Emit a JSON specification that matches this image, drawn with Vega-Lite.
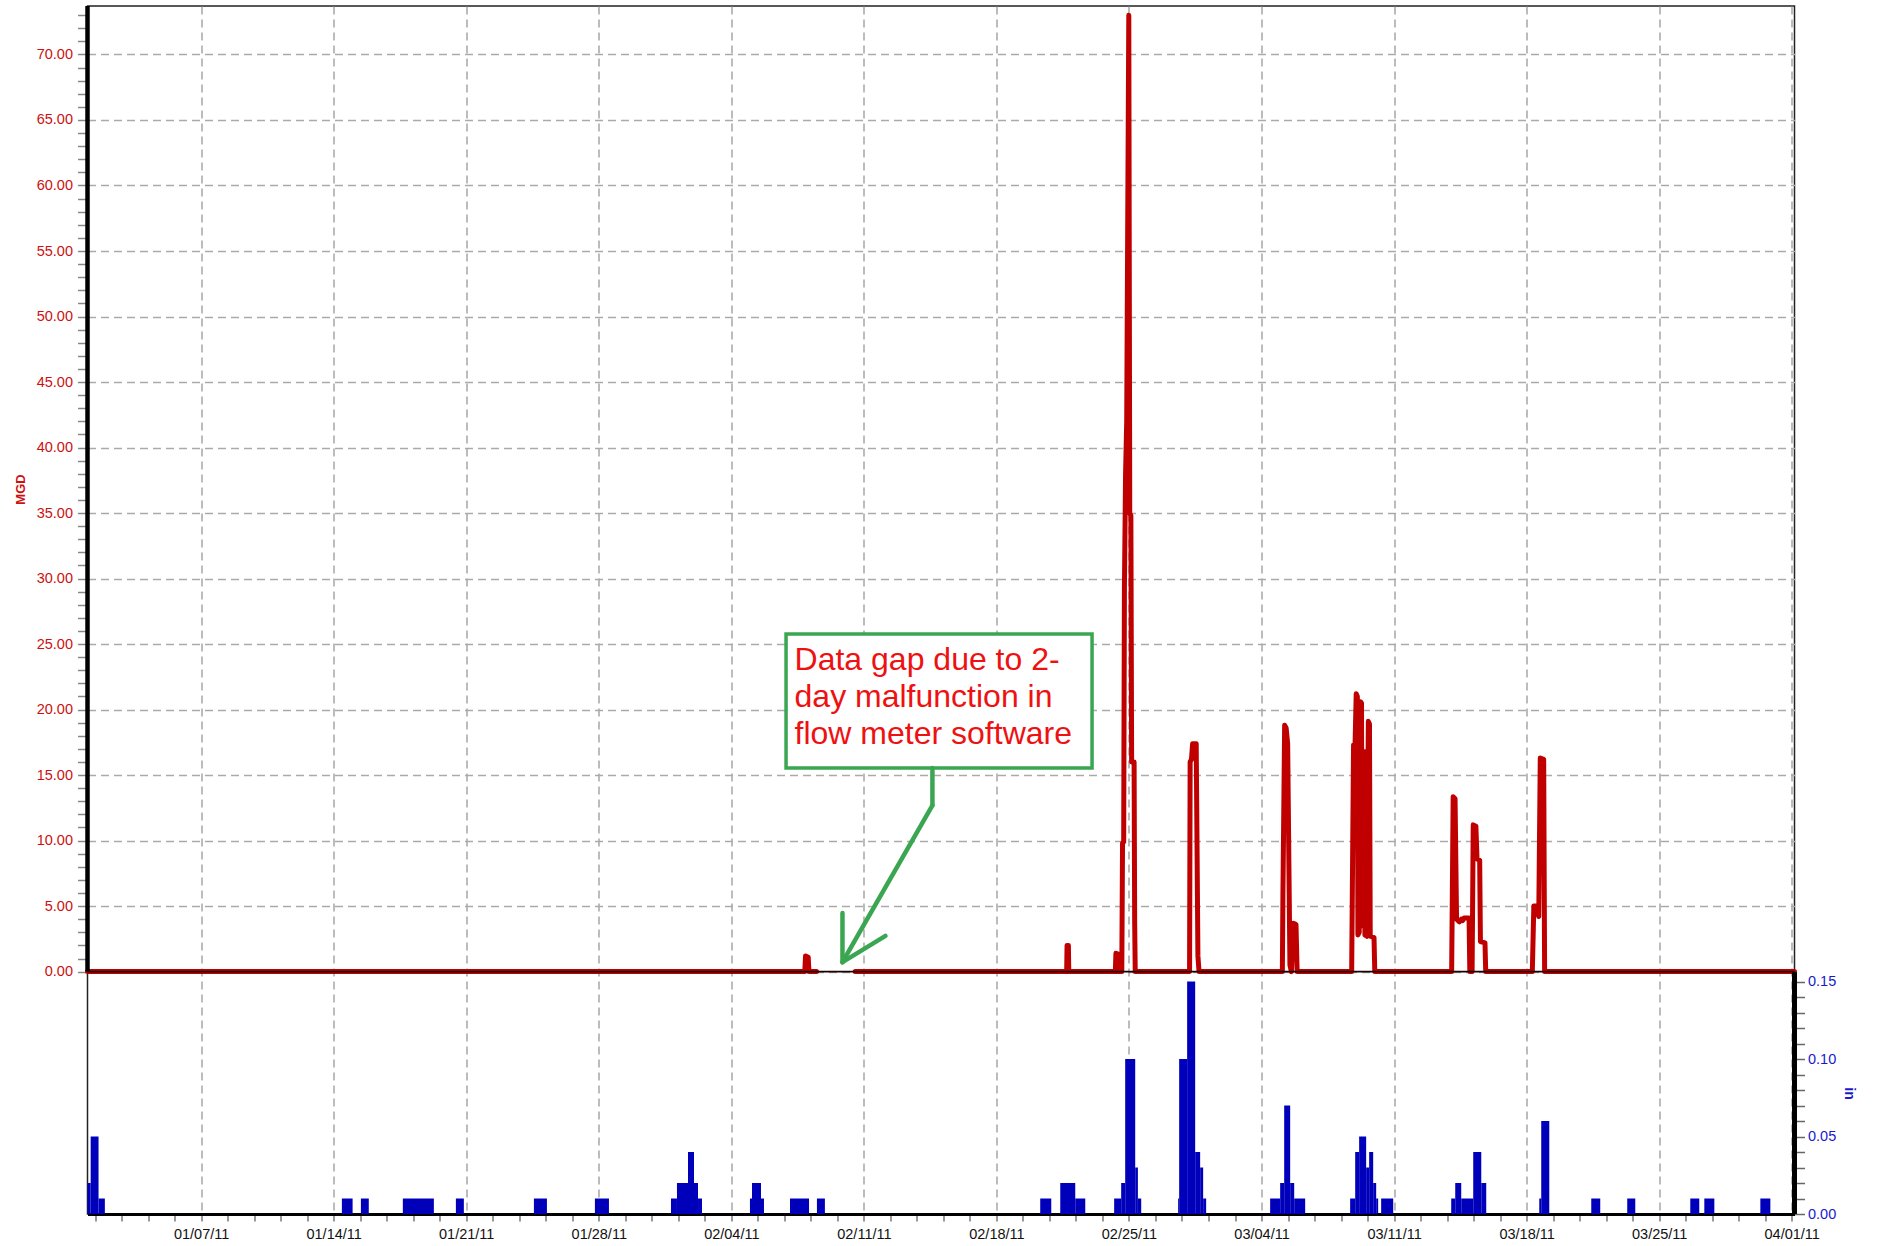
{
  "$schema": "https://vega.github.io/schema/vega-lite/v6.json",
  "autosize": {"type": "none"},
  "padding": {"left": 87.5, "top": 6, "right": 84.5, "bottom": 32},
  "width": 1707,
  "height": 1208,
  "background": "white",
  "config": {
    "view": {"stroke": "#222222", "strokeWidth": 1.5},
    "font": "Liberation Sans",
    "axis": {"labelFont": "Liberation Sans", "titleFont": "Liberation Sans"}
  },
  "datasets": {
    "flow": [
      {"t": "2011-01-01T00:00:00Z", "MGD": 0, "seg": 1},
      {"t": "2011-02-07T21:07:00Z", "MGD": 0, "seg": 1},
      {"t": "2011-02-07T22:05:00Z", "MGD": 1.2, "seg": 1},
      {"t": "2011-02-08T01:26:00Z", "MGD": 1.1, "seg": 1},
      {"t": "2011-02-08T02:24:00Z", "MGD": 0, "seg": 1},
      {"t": "2011-02-08T12:00:00Z", "MGD": 0, "seg": 1},
      {"t": "2011-02-10T13:00:00Z", "MGD": 0, "seg": 2},
      {"t": "2011-02-21T17:02:00Z", "MGD": 0, "seg": 2},
      {"t": "2011-02-21T17:31:00Z", "MGD": 2.0, "seg": 2},
      {"t": "2011-02-21T19:12:00Z", "MGD": 2.0, "seg": 2},
      {"t": "2011-02-21T19:41:00Z", "MGD": 0, "seg": 2},
      {"t": "2011-02-24T06:43:00Z", "MGD": 0, "seg": 2},
      {"t": "2011-02-24T07:26:00Z", "MGD": 1.4, "seg": 2},
      {"t": "2011-02-24T09:36:00Z", "MGD": 1.35, "seg": 2},
      {"t": "2011-02-24T10:19:00Z", "MGD": 0, "seg": 2},
      {"t": "2011-02-24T14:53:00Z", "MGD": 0, "seg": 2},
      {"t": "2011-02-24T15:50:00Z", "MGD": 9.8, "seg": 2},
      {"t": "2011-02-24T17:17:00Z", "MGD": 9.9, "seg": 2},
      {"t": "2011-02-24T18:14:00Z", "MGD": 29.3, "seg": 2},
      {"t": "2011-02-24T19:41:00Z", "MGD": 38.0, "seg": 2},
      {"t": "2011-02-24T21:07:00Z", "MGD": 42.0, "seg": 2},
      {"t": "2011-02-24T23:46:00Z", "MGD": 73.0, "seg": 2},
      {"t": "2011-02-25T00:58:00Z", "MGD": 35.0, "seg": 2},
      {"t": "2011-02-25T02:24:00Z", "MGD": 34.8, "seg": 2},
      {"t": "2011-02-25T03:22:00Z", "MGD": 16.0, "seg": 2},
      {"t": "2011-02-25T06:29:00Z", "MGD": 16.0, "seg": 2},
      {"t": "2011-02-25T07:12:00Z", "MGD": 3.9, "seg": 2},
      {"t": "2011-02-25T07:55:00Z", "MGD": 0, "seg": 2},
      {"t": "2011-02-28T04:48:00Z", "MGD": 0, "seg": 2},
      {"t": "2011-02-28T05:31:00Z", "MGD": 16.0, "seg": 2},
      {"t": "2011-02-28T07:12:00Z", "MGD": 16.2, "seg": 2},
      {"t": "2011-02-28T08:38:00Z", "MGD": 17.4, "seg": 2},
      {"t": "2011-02-28T13:12:00Z", "MGD": 17.4, "seg": 2},
      {"t": "2011-02-28T15:22:00Z", "MGD": 1.2, "seg": 2},
      {"t": "2011-02-28T16:48:00Z", "MGD": 0, "seg": 2},
      {"t": "2011-03-05T02:24:00Z", "MGD": 0, "seg": 2},
      {"t": "2011-03-05T03:07:00Z", "MGD": 5.85, "seg": 2},
      {"t": "2011-03-05T05:17:00Z", "MGD": 18.8, "seg": 2},
      {"t": "2011-03-05T07:12:00Z", "MGD": 18.6, "seg": 2},
      {"t": "2011-03-05T09:07:00Z", "MGD": 17.4, "seg": 2},
      {"t": "2011-03-05T12:00:00Z", "MGD": 0.5, "seg": 2},
      {"t": "2011-03-05T13:55:00Z", "MGD": 0, "seg": 2},
      {"t": "2011-03-05T16:19:00Z", "MGD": 3.7, "seg": 2},
      {"t": "2011-03-05T19:41:00Z", "MGD": 3.6, "seg": 2},
      {"t": "2011-03-05T21:07:00Z", "MGD": 0, "seg": 2},
      {"t": "2011-03-08T18:14:00Z", "MGD": 0, "seg": 2},
      {"t": "2011-03-08T20:38:00Z", "MGD": 17.3, "seg": 2},
      {"t": "2011-03-08T22:34:00Z", "MGD": 17.4, "seg": 2},
      {"t": "2011-03-09T00:00:00Z", "MGD": 21.2, "seg": 2},
      {"t": "2011-03-09T01:26:00Z", "MGD": 21.0, "seg": 2},
      {"t": "2011-03-09T02:10:00Z", "MGD": 2.8, "seg": 2},
      {"t": "2011-03-09T03:50:00Z", "MGD": 3.0, "seg": 2},
      {"t": "2011-03-09T05:17:00Z", "MGD": 20.6, "seg": 2},
      {"t": "2011-03-09T06:43:00Z", "MGD": 20.5, "seg": 2},
      {"t": "2011-03-09T07:26:00Z", "MGD": 3.5, "seg": 2},
      {"t": "2011-03-09T08:38:00Z", "MGD": 16.6, "seg": 2},
      {"t": "2011-03-09T10:05:00Z", "MGD": 16.8, "seg": 2},
      {"t": "2011-03-09T11:02:00Z", "MGD": 2.8, "seg": 2},
      {"t": "2011-03-09T13:26:00Z", "MGD": 2.7, "seg": 2},
      {"t": "2011-03-09T15:22:00Z", "MGD": 19.1, "seg": 2},
      {"t": "2011-03-09T16:48:00Z", "MGD": 18.9, "seg": 2},
      {"t": "2011-03-09T17:46:00Z", "MGD": 2.7, "seg": 2},
      {"t": "2011-03-09T22:34:00Z", "MGD": 2.6, "seg": 2},
      {"t": "2011-03-09T23:31:00Z", "MGD": 0, "seg": 2},
      {"t": "2011-03-14T00:58:00Z", "MGD": 0, "seg": 2},
      {"t": "2011-03-14T02:53:00Z", "MGD": 13.35, "seg": 2},
      {"t": "2011-03-14T05:17:00Z", "MGD": 13.2, "seg": 2},
      {"t": "2011-03-14T07:12:00Z", "MGD": 4.0, "seg": 2},
      {"t": "2011-03-14T10:48:00Z", "MGD": 3.8, "seg": 2},
      {"t": "2011-03-14T13:12:00Z", "MGD": 4.0, "seg": 2},
      {"t": "2011-03-14T14:53:00Z", "MGD": 3.9, "seg": 2},
      {"t": "2011-03-14T16:48:00Z", "MGD": 4.1, "seg": 2},
      {"t": "2011-03-14T23:02:00Z", "MGD": 4.1, "seg": 2},
      {"t": "2011-03-15T00:00:00Z", "MGD": 0, "seg": 2},
      {"t": "2011-03-15T02:53:00Z", "MGD": 0, "seg": 2},
      {"t": "2011-03-15T04:19:00Z", "MGD": 11.2, "seg": 2},
      {"t": "2011-03-15T07:41:00Z", "MGD": 11.1, "seg": 2},
      {"t": "2011-03-15T09:07:00Z", "MGD": 8.6, "seg": 2},
      {"t": "2011-03-15T12:29:00Z", "MGD": 8.5, "seg": 2},
      {"t": "2011-03-15T13:26:00Z", "MGD": 2.3, "seg": 2},
      {"t": "2011-03-15T19:12:00Z", "MGD": 2.2, "seg": 2},
      {"t": "2011-03-15T20:10:00Z", "MGD": 0, "seg": 2},
      {"t": "2011-03-18T07:12:00Z", "MGD": 0, "seg": 2},
      {"t": "2011-03-18T09:07:00Z", "MGD": 5.0, "seg": 2},
      {"t": "2011-03-18T12:29:00Z", "MGD": 5.0, "seg": 2},
      {"t": "2011-03-18T15:22:00Z", "MGD": 4.2, "seg": 2},
      {"t": "2011-03-18T17:17:00Z", "MGD": 16.3, "seg": 2},
      {"t": "2011-03-18T21:36:00Z", "MGD": 16.2, "seg": 2},
      {"t": "2011-03-18T22:48:00Z", "MGD": 0, "seg": 2},
      {"t": "2011-04-01T03:30:00Z", "MGD": 0, "seg": 2}
    ],
    "rain": [
      {"start": "2011-01-01T00:00:00Z", "end": "2011-01-01T04:00:00Z", "in": 0.02},
      {"start": "2011-01-01T04:00:00Z", "end": "2011-01-01T14:00:00Z", "in": 0.05},
      {"start": "2011-01-01T14:00:00Z", "end": "2011-01-01T22:00:00Z", "in": 0.01},
      {"start": "2011-01-14T10:24:00Z", "end": "2011-01-15T00:00:00Z", "in": 0.01},
      {"start": "2011-01-15T10:30:00Z", "end": "2011-01-15T20:30:00Z", "in": 0.01},
      {"start": "2011-01-17T15:40:00Z", "end": "2011-01-19T07:00:00Z", "in": 0.01},
      {"start": "2011-01-20T10:54:00Z", "end": "2011-01-20T21:00:00Z", "in": 0.01},
      {"start": "2011-01-24T13:48:00Z", "end": "2011-01-25T06:18:00Z", "in": 0.01},
      {"start": "2011-01-27T19:06:00Z", "end": "2011-01-28T12:54:00Z", "in": 0.01},
      {"start": "2011-01-31T19:30:00Z", "end": "2011-02-01T03:06:00Z", "in": 0.01},
      {"start": "2011-02-01T03:06:00Z", "end": "2011-02-01T17:06:00Z", "in": 0.02},
      {"start": "2011-02-01T17:06:00Z", "end": "2011-02-02T00:42:00Z", "in": 0.04},
      {"start": "2011-02-02T00:42:00Z", "end": "2011-02-02T05:48:00Z", "in": 0.02},
      {"start": "2011-02-02T05:48:00Z", "end": "2011-02-02T10:48:00Z", "in": 0.01},
      {"start": "2011-02-04T23:36:00Z", "end": "2011-02-05T02:12:00Z", "in": 0.01},
      {"start": "2011-02-05T02:12:00Z", "end": "2011-02-05T13:36:00Z", "in": 0.02},
      {"start": "2011-02-05T13:36:00Z", "end": "2011-02-05T17:24:00Z", "in": 0.01},
      {"start": "2011-02-07T02:24:00Z", "end": "2011-02-08T02:30:00Z", "in": 0.01},
      {"start": "2011-02-08T12:30:00Z", "end": "2011-02-08T22:36:00Z", "in": 0.01},
      {"start": "2011-02-20T07:30:00Z", "end": "2011-02-20T21:30:00Z", "in": 0.01},
      {"start": "2011-02-21T08:54:00Z", "end": "2011-02-22T03:54:00Z", "in": 0.02},
      {"start": "2011-02-22T03:54:00Z", "end": "2011-02-22T16:36:00Z", "in": 0.01},
      {"start": "2011-02-24T05:12:00Z", "end": "2011-02-24T14:06:00Z", "in": 0.01},
      {"start": "2011-02-24T14:06:00Z", "end": "2011-02-24T19:12:00Z", "in": 0.02},
      {"start": "2011-02-24T19:12:00Z", "end": "2011-02-25T07:54:00Z", "in": 0.10},
      {"start": "2011-02-25T07:54:00Z", "end": "2011-02-25T11:18:00Z", "in": 0.03},
      {"start": "2011-02-25T11:18:00Z", "end": "2011-02-25T15:30:00Z", "in": 0.01},
      {"start": "2011-02-27T14:18:00Z", "end": "2011-02-27T15:36:00Z", "in": 0.01},
      {"start": "2011-02-27T15:36:00Z", "end": "2011-02-28T01:42:00Z", "in": 0.10},
      {"start": "2011-02-28T01:42:00Z", "end": "2011-02-28T11:54:00Z", "in": 0.15},
      {"start": "2011-02-28T11:54:00Z", "end": "2011-02-28T18:12:00Z", "in": 0.04},
      {"start": "2011-02-28T18:12:00Z", "end": "2011-02-28T22:00:00Z", "in": 0.03},
      {"start": "2011-02-28T22:00:00Z", "end": "2011-03-01T01:48:00Z", "in": 0.01},
      {"start": "2011-03-04T10:54:00Z", "end": "2011-03-04T23:36:00Z", "in": 0.01},
      {"start": "2011-03-04T23:36:00Z", "end": "2011-03-05T04:42:00Z", "in": 0.02},
      {"start": "2011-03-05T04:42:00Z", "end": "2011-03-05T12:18:00Z", "in": 0.07},
      {"start": "2011-03-05T12:18:00Z", "end": "2011-03-05T17:24:00Z", "in": 0.02},
      {"start": "2011-03-05T17:24:00Z", "end": "2011-03-06T07:18:00Z", "in": 0.01},
      {"start": "2011-03-08T16:18:00Z", "end": "2011-03-08T22:42:00Z", "in": 0.01},
      {"start": "2011-03-08T22:42:00Z", "end": "2011-03-09T03:42:00Z", "in": 0.04},
      {"start": "2011-03-09T03:42:00Z", "end": "2011-03-09T12:36:00Z", "in": 0.05},
      {"start": "2011-03-09T12:36:00Z", "end": "2011-03-09T16:24:00Z", "in": 0.03},
      {"start": "2011-03-09T16:24:00Z", "end": "2011-03-09T21:30:00Z", "in": 0.04},
      {"start": "2011-03-09T21:30:00Z", "end": "2011-03-10T01:18:00Z", "in": 0.02},
      {"start": "2011-03-10T01:18:00Z", "end": "2011-03-10T03:48:00Z", "in": 0.01},
      {"start": "2011-03-10T07:36:00Z", "end": "2011-03-10T22:54:00Z", "in": 0.01},
      {"start": "2011-03-14T00:24:00Z", "end": "2011-03-14T05:30:00Z", "in": 0.01},
      {"start": "2011-03-14T05:30:00Z", "end": "2011-03-14T13:06:00Z", "in": 0.02},
      {"start": "2011-03-14T13:06:00Z", "end": "2011-03-15T04:18:00Z", "in": 0.01},
      {"start": "2011-03-15T04:18:00Z", "end": "2011-03-15T14:30:00Z", "in": 0.04},
      {"start": "2011-03-15T14:30:00Z", "end": "2011-03-15T20:48:00Z", "in": 0.02},
      {"start": "2011-03-18T16:00:00Z", "end": "2011-03-18T18:30:00Z", "in": 0.01},
      {"start": "2011-03-18T18:30:00Z", "end": "2011-03-19T04:42:00Z", "in": 0.06},
      {"start": "2011-03-21T09:54:00Z", "end": "2011-03-21T21:18:00Z", "in": 0.01},
      {"start": "2011-03-23T07:30:00Z", "end": "2011-03-23T17:42:00Z", "in": 0.01},
      {"start": "2011-03-26T15:24:00Z", "end": "2011-03-27T02:48:00Z", "in": 0.01},
      {"start": "2011-03-27T09:12:00Z", "end": "2011-03-27T21:54:00Z", "in": 0.01},
      {"start": "2011-03-30T08:12:00Z", "end": "2011-03-30T20:54:00Z", "in": 0.01}
    ]
  },
  "layer": [
    {
      "layer": [
        {
          "data": {"name": "flow"},
          "mark": {"type": "line", "color": "#c00000", "strokeWidth": 5, "strokeCap": "round", "strokeJoin": "round"},
          "encoding": {
            "x": {
              "field": "t", "type": "temporal",
              "scale": {"type": "utc", "nice": false, "domain": [{"year": 2011, "month": 1, "date": 1, "utc": true}, {"year": 2011, "month": 4, "date": 1, "hours": 3, "minutes": 30, "utc": true}]},
              "axis": {
                "title": null,
                "tickCount": 500,
                "values": [1293874560000, 1293995520000, 1294116480000, 1294237440000, 1294358400000, 1294479360000, 1294600320000, 1294721280000, 1294842240000, 1294963200000, 1295084160000, 1295205120000, 1295326080000, 1295447040000, 1295568000000, 1295688960000, 1295809920000, 1295930880000, 1296051840000, 1296172800000, 1296293760000, 1296414720000, 1296535680000, 1296656640000, 1296777600000, 1296898560000, 1297019520000, 1297140480000, 1297261440000, 1297382400000, 1297503360000, 1297624320000, 1297745280000, 1297866240000, 1297987200000, 1298108160000, 1298229120000, 1298350080000, 1298471040000, 1298592000000, 1298712960000, 1298833920000, 1298954880000, 1299075840000, 1299196800000, 1299317760000, 1299438720000, 1299559680000, 1299680640000, 1299801600000, 1299922560000, 1300043520000, 1300164480000, 1300285440000, 1300406400000, 1300527360000, 1300648320000, 1300769280000, 1300890240000, 1301011200000, 1301132160000, 1301253120000, 1301374080000, 1301495040000, 1301616000000],
                "labelExpr": "utcFormat(datum.value, '%H%M') === '0000' ? utcFormat(datum.value, '%m/%d/%y') : ''",
                "labelFontSize": 14.5, "labelColor": "#111111", "labelPadding": 6,
                "labelFlush": false, "labelOverlap": false, "labelBound": false, "labelAngle": 0,
                "tickSize": 7, "tickColor": "#777777", "tickWidth": 1.5,
                "domain": true, "domainColor": "#000000", "domainWidth": 3,
                "grid": true, "gridColor": "#999999", "gridWidth": 1.3, "gridDash": [8, 5],
                "gridOpacity": {"condition": {"test": "utcFormat(datum.value, '%H%M') === '0000'", "value": 1}, "value": 0}
              }
            },
            "y": {
              "field": "MGD", "type": "quantitative",
              "scale": {"domain": [-18.5, 73.7], "nice": false, "zero": false},
              "axis": {
                "orient": "left",
                "title": "MGD",
                "tickCount": 500,
                "values": [0,1,2,3,4,5,6,7,8,9,10,11,12,13,14,15,16,17,18,19,20,21,22,23,24,25,26,27,28,29,30,31,32,33,34,35,36,37,38,39,40,41,42,43,44,45,46,47,48,49,50,51,52,53,54,55,56,57,58,59,60,61,62,63,64,65,66,67,68,69,70,71,72,73],
                "labelExpr": "datum.value % 5 === 0 ? format(datum.value, '.2f') : ''",
                "labelFontSize": 14.5, "labelColor": "#cc1111", "labelPadding": 5,
                "labelOverlap": false, "labelBound": false, "labelFlush": false,
                "tickSize": 10, "tickColor": "#888888", "tickWidth": 1.5,
                "domain": false,
                "grid": true, "gridColor": "#aaaaaa", "gridWidth": 1.6, "gridDash": [8, 5],
                "gridOpacity": {"condition": {"test": "datum.value % 5 === 0", "value": 1}, "value": 0},
                "titleColor": "#cc1111", "titleFontSize": 13, "titleFontWeight": "bold",
                "titleAngle": 270, "titleAlign": "center", "titleBaseline": "middle",
                "titleX": -67.5, "titleY": 483
              }
            },
            "detail": {"field": "seg", "type": "nominal"}
          }
        },
        {
          "data": {"values": [{}]},
          "mark": {"type": "rule", "color": "#1a0000", "strokeWidth": 1.6},
          "encoding": {
            "x": {"datum": {"year": 2011, "month": 1, "date": 1, "utc": true}, "type": "temporal"},
            "x2": {"datum": {"year": 2011, "month": 4, "date": 1, "hours": 3, "minutes": 30, "utc": true}},
            "y": {"datum": 0, "type": "quantitative"}
          }
        },
        {
          "data": {"values": [{}]},
          "mark": {"type": "rule", "color": "#000000", "strokeWidth": 4.5},
          "encoding": {
            "x": {"datum": {"year": 2011, "month": 1, "date": 1, "utc": true}, "type": "temporal"},
            "y": {"datum": 0, "type": "quantitative"},
            "y2": {"datum": 73.7}
          }
        },
        {
          "data": {"values": [{}]},
          "mark": {"type": "rect", "fill": "#ffffff", "stroke": "#3aa651", "strokeWidth": 3.5},
          "encoding": {
            "x": {"datum": {"year": 2011, "month": 2, "date": 6, "hours": 21, "minutes": 22, "utc": true}, "type": "temporal"},
            "x2": {"datum": {"year": 2011, "month": 2, "date": 23, "hours": 1, "minutes": 12, "utc": true}},
            "y": {"datum": 15.54, "type": "quantitative"},
            "y2": {"datum": 25.76}
          }
        },
        {
          "data": {"values": [{}]},
          "mark": {"type": "text", "align": "left", "baseline": "alphabetic", "fontSize": 32, "lineHeight": 37, "lineBreak": "\n", "color": "#ee1111", "font": "Liberation Sans"},
          "encoding": {
            "x": {"datum": {"year": 2011, "month": 2, "date": 7, "hours": 8, "minutes": 10, "utc": true}, "type": "temporal"},
            "y": {"datum": 23.0, "type": "quantitative"},
            "text": {"value": "Data gap due to 2-\nday malfunction in\nflow meter software"}
          }
        },
        {
          "data": {"values": [{}]},
          "mark": {"type": "rule", "color": "#3aa651", "strokeWidth": 4.5, "strokeCap": "round"},
          "encoding": {
            "x": {"datum": {"year": 2011, "month": 2, "date": 14, "hours": 14, "minutes": 53, "utc": true}, "type": "temporal"},
            "y": {"datum": 15.54, "type": "quantitative"},
            "y2": {"datum": 12.69}
          }
        },
        {
          "data": {"values": [{}]},
          "mark": {"type": "rule", "color": "#3aa651", "strokeWidth": 4.5, "strokeCap": "round"},
          "encoding": {
            "x": {"datum": {"year": 2011, "month": 2, "date": 14, "hours": 14, "minutes": 53, "utc": true}, "type": "temporal"},
            "x2": {"datum": {"year": 2011, "month": 2, "date": 9, "hours": 20, "minutes": 53, "utc": true}},
            "y": {"datum": 12.69, "type": "quantitative"},
            "y2": {"datum": 0.72}
          }
        },
        {
          "data": {"values": [{}]},
          "mark": {"type": "rule", "color": "#3aa651", "strokeWidth": 4.5, "strokeCap": "round"},
          "encoding": {
            "x": {"datum": {"year": 2011, "month": 2, "date": 9, "hours": 20, "minutes": 53, "utc": true}, "type": "temporal"},
            "y": {"datum": 0.72, "type": "quantitative"},
            "y2": {"datum": 4.48}
          }
        },
        {
          "data": {"values": [{}]},
          "mark": {"type": "rule", "color": "#3aa651", "strokeWidth": 4.5, "strokeCap": "round"},
          "encoding": {
            "x": {"datum": {"year": 2011, "month": 2, "date": 9, "hours": 20, "minutes": 53, "utc": true}, "type": "temporal"},
            "x2": {"datum": {"year": 2011, "month": 2, "date": 12, "hours": 3, "minutes": 22, "utc": true}},
            "y": {"datum": 0.72, "type": "quantitative"},
            "y2": {"datum": 2.73}
          }
        }
      ]
    },
    {
      "layer": [
        {
          "data": {"name": "rain"},
          "mark": {"type": "rect", "color": "#0000bb"},
          "encoding": {
            "x": {"field": "start", "type": "temporal"},
            "x2": {"field": "end"},
            "y": {
              "field": "in", "type": "quantitative",
              "scale": {"domain": [0, 0.7794], "nice": false},
              "axis": {
                "orient": "right",
                "title": "in",
                "tickCount": 500,
                "values": [0, 0.01, 0.02, 0.03, 0.04, 0.05, 0.06, 0.07, 0.08, 0.09, 0.1, 0.11, 0.12, 0.13, 0.14, 0.15],
                "labelExpr": "round(datum.value * 100) % 5 === 0 ? format(datum.value, '.2f') : ''",
                "labelFontSize": 14.5, "labelColor": "#1a1acc", "labelPadding": 3,
                "labelOverlap": false, "labelBound": false, "labelFlush": false,
                "tickSize": 10, "tickColor": "#666666", "tickWidth": 1.5,
                "domain": false, "grid": false,
                "titleColor": "#1a1acc", "titleFontSize": 14, "titleFontWeight": "bold",
                "titleAngle": 90, "titleAlign": "center", "titleBaseline": "middle",
                "titleX": 53.5, "titleY": 1087
              }
            },
            "y2": {"datum": 0}
          }
        },
        {
          "data": {"values": [{}]},
          "mark": {"type": "rule", "color": "#000000", "strokeWidth": 5},
          "encoding": {
            "x": {"datum": {"year": 2011, "month": 4, "date": 1, "hours": 3, "minutes": 30, "utc": true}, "type": "temporal"},
            "y": {"datum": 0, "type": "quantitative"},
            "y2": {"datum": 0.156}
          }
        }
      ]
    }
  ],
  "resolve": {"scale": {"y": "independent"}, "axis": {"y": "independent"}}
}
